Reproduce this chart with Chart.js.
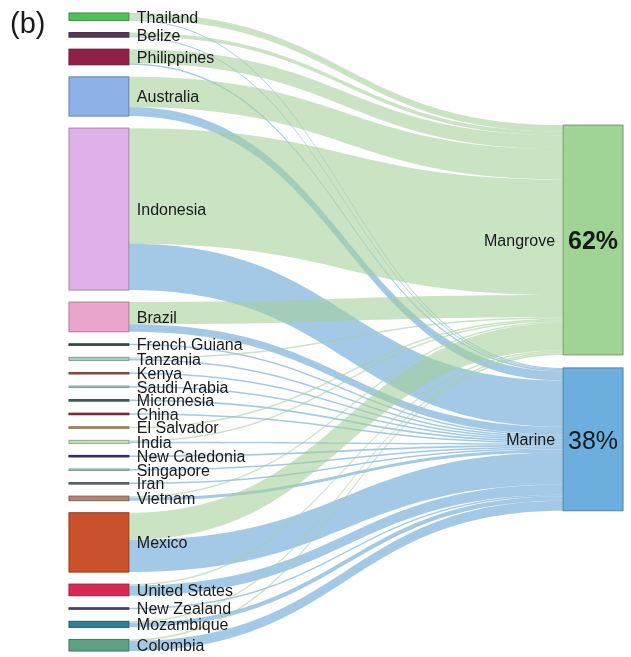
<!DOCTYPE html>
<html lang="en">
  <head>
    <meta charset="UTF-8" />
    <meta name="viewport" content="width=device-width, initial-scale=1.0" />
    <title>Sankey</title>
    <script src="https://cdn.jsdelivr.net/npm/chart.js@4"></script>
    <style>
      body {
        margin: 0;
        background: #fff;
      }
      .chart-box {
        width: 631px;
        height: 657px;
        position: relative;
      }
    </style>
  </head>
  <body>
    <div class="chart-box">
      <canvas id="myChart"></canvas>
    </div>
    <script>
      const countries = [
        "Thailand", "Belize", "Philippines", "Australia", "Indonesia", "Brazil",
        "French Guiana", "Tanzania", "Kenya", "Saudi Arabia", "Micronesia", "China",
        "El Salvador", "India", "New Caledonia", "Singapore", "Iran", "Vietnam",
        "Mexico", "United States", "New Zealand", "Mozambique", "Colombia",
      ];
      const toMangrove = [6.5, 3.5, 14, 30, 115, 22, 0, 1.5, 0, 0, 0, 0, 1.5, 1.5, 0, 0, 0, 1.5, 27, 1.5, 0, 1.5, 1.5];
      const toMarine = [1, 1, 1.5, 9, 46, 7.5, 1.5, 1.5, 1.5, 1.5, 1.5, 1.5, 0, 1.5, 1.5, 1.5, 1.5, 3, 32, 10, 1.5, 4.5, 10];
      const targets = ["Mangrove", "Marine"];
      const targetShares = ["62%", "38%"];

      const countryColors = [
        "#52c05a", "#5b3556", "#8f2048", "#8eb1e8", "#dfb1e8", "#eba5ca",
        "#2e5b45", "#a3d6c6", "#a5584a", "#b0cfd9", "#3f6e5c", "#8d2a3e",
        "#bb9a6e", "#c2e6b8", "#3b2e9c", "#b2d1c6", "#707070", "#b58273",
        "#c9512b", "#da2a52", "#4c4c8e", "#2f8193", "#5ea283",
      ];
      const targetColors = ["#9fd494", "#6cafdf"];
      const linkColors = ["rgba(165,208,155,0.6)", "rgba(102,165,213,0.6)"];

      const nodePad = 12; // gap between nodes (value units)
      const targetTop = 111.5; // start of right column (value units)
      const targetPad = 13; // gap between the two right nodes
      const nodeWidth = 0.108; // node width as fraction of x range

      const flows = [toMangrove, toMarine];
      const leftTotal = countries.reduce((s, c, i) => s + toMangrove[i] + toMarine[i], 0);
      const yMax = leftTotal + nodePad * (countries.length - 1);

      const sankeyPlugin = {
        id: "sankey",
        afterDraw(chart) {
          const ctx = chart.ctx;
          const { x, y } = chart.scales;

          // node layout in value units
          let pos = 0;
          const src = countries.map((name, i) => {
            const v = toMangrove[i] + toMarine[i];
            const n = { top: pos, bottom: pos + v, out: pos };
            pos += v + nodePad;
            return n;
          });
          let tpos = targetTop;
          const dst = targets.map((name, j) => {
            const v = flows[j].reduce((a, b) => a + b, 0);
            const n = { top: tpos, bottom: tpos + v, inn: tpos };
            tpos += v + targetPad;
            return n;
          });

          const xl = x.getPixelForValue(0);
          const x0 = x.getPixelForValue(nodeWidth);
          const x1 = x.getPixelForValue(1 - nodeWidth);
          const xr = x.getPixelForValue(1);
          const xm = (x0 + x1) / 2;

          ctx.save();
          // links
          countries.forEach((c, i) => {
            flows.forEach((f, j) => {
              const v = f[i];
              if (!v) return;
              const s0 = y.getPixelForValue(src[i].out);
              const s1 = y.getPixelForValue(src[i].out + v);
              const t0 = y.getPixelForValue(dst[j].inn);
              const t1 = y.getPixelForValue(dst[j].inn + v);
              src[i].out += v;
              dst[j].inn += v;
              ctx.beginPath();
              ctx.moveTo(x0, s0);
              ctx.bezierCurveTo(xm, s0, xm, t0, x1, t0);
              ctx.lineTo(x1, t1);
              ctx.bezierCurveTo(xm, t1, xm, s1, x0, s1);
              ctx.closePath();
              ctx.fillStyle = linkColors[j];
              ctx.fill();
            });
          });

          // nodes
          const drawNode = (left, right, top, bottom, color) => {
            const py0 = y.getPixelForValue(top);
            const py1 = y.getPixelForValue(bottom);
            ctx.fillStyle = color;
            ctx.fillRect(left, py0, right - left, py1 - py0);
            ctx.lineWidth = 1;
            ctx.strokeStyle = color;
            ctx.strokeRect(left, py0, right - left, py1 - py0);
            ctx.strokeStyle = "rgba(0,0,0,0.25)";
            ctx.strokeRect(left, py0, right - left, py1 - py0);
            return (py0 + py1) / 2;
          };

          ctx.textBaseline = "middle";
          countries.forEach((name, i) => {
            const cy = drawNode(xl, x0, src[i].top, src[i].bottom, countryColors[i]);
            ctx.fillStyle = "#1a1a1a";
            ctx.font = '16px "Liberation Sans", Arial, sans-serif';
            ctx.textAlign = "left";
            ctx.fillText(name, x0 + 8, cy + 1.5);
          });
          targets.forEach((name, j) => {
            const cy = drawNode(x1, xr, dst[j].top, dst[j].bottom, targetColors[j]);
            ctx.fillStyle = "#1a1a1a";
            ctx.font = '16px "Liberation Sans", Arial, sans-serif';
            ctx.textAlign = "right";
            ctx.fillText(name, x1 - 8, cy + 1.5);
            ctx.font = (j === 0 ? "bold " : "") + '25px "Liberation Sans", Arial, sans-serif';
            ctx.textAlign = "center";
            ctx.fillText(targetShares[j], (x1 + xr) / 2, cy + 2.5);
          });

          // panel tag
          ctx.font = '29px "Liberation Sans", Arial, sans-serif';
          ctx.textAlign = "left";
          ctx.textBaseline = "alphabetic";
          ctx.fillStyle = "#1a1a1a";
          ctx.fillText("(b)", 10, 33);
          ctx.restore();
        },
      };

      new Chart(document.getElementById("myChart"), {
        type: "scatter",
        data: { datasets: [] },
        options: {
          responsive: true,
          maintainAspectRatio: false,
          animation: false,
          layout: { padding: { left: 69, right: 8, top: 13, bottom: 6 } },
          scales: {
            x: { type: "linear", min: 0, max: 1, display: false },
            y: { type: "linear", min: 0, max: yMax, reverse: true, display: false },
          },
          plugins: {
            legend: { display: false },
            tooltip: { enabled: false },
          },
        },
        plugins: [sankeyPlugin],
      });
    </script>
  </body>
</html>
